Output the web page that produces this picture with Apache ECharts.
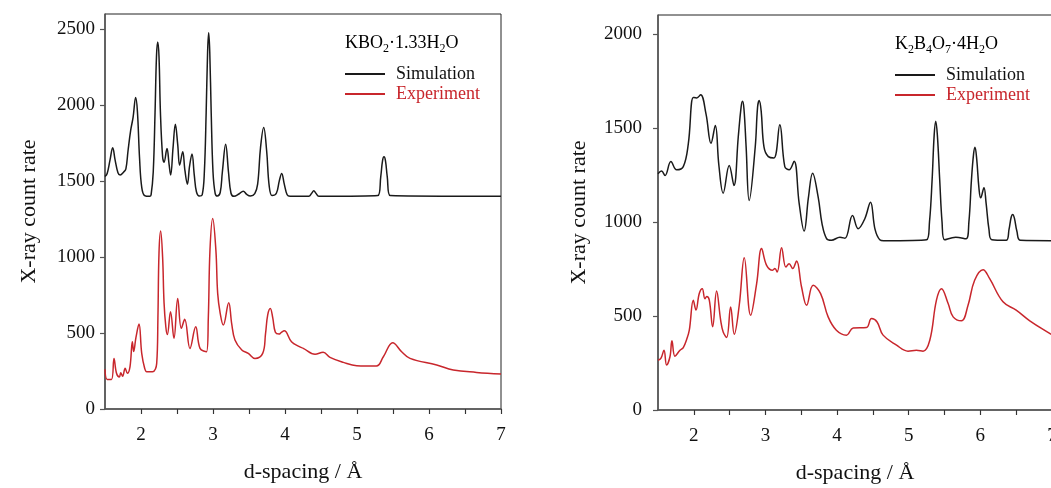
<!DOCTYPE html>
<html>
<head>
<meta charset="utf-8">
<script src="https://cdn.jsdelivr.net/npm/echarts@6/dist/echarts.min.js"></script>
<style>
html,body{margin:0;padding:0;background:#fff;}
#chart{width:1051px;height:488px;}
</style>
</head>
<body>
<div id="chart"></div>
<script>
// ---- data (d-spacing in Å, X-ray count rate) ----
const xLabelValues = [2, 3, 4, 5, 6, 7];
const xTickValues = [2, 2.5, 3, 3.5, 4, 4.5, 5, 5.5, 6, 6.5, 7];
const leftYTicks = [0, 500, 1000, 1500, 2000, 2500];
const rightYTicks = [0, 500, 1000, 1500, 2000];

const kbSim = [[1.50,1530],[1.53,1550],[1.57,1640],[1.607,1720],[1.64,1640],[1.68,1555],[1.71,1540],[1.76,1560],[1.79,1580],[1.82,1700],[1.857,1835],[1.89,1920],[1.926,2050],[1.95,1960],[1.98,1650],[2.01,1460],[2.05,1405],[2.12,1400],[2.14,1410],[2.17,1560],[2.195,1950],[2.215,2320],[2.232,2415],[2.25,2320],[2.27,1950],[2.30,1660],[2.32,1625],[2.361,1715],[2.39,1610],[2.412,1540],[2.445,1720],[2.477,1875],[2.51,1740],[2.537,1605],[2.579,1693],[2.61,1570],[2.644,1480],[2.675,1600],[2.708,1678],[2.74,1540],[2.77,1430],[2.81,1402],[2.85,1410],[2.88,1560],[2.905,1950],[2.925,2350],[2.94,2476],[2.955,2350],[2.975,1950],[3.00,1560],[3.03,1420],[3.06,1402],[3.10,1425],[3.13,1560],[3.176,1743],[3.215,1560],[3.25,1420],[3.29,1400],[3.36,1415],[3.42,1434],[3.47,1412],[3.52,1402],[3.58,1418],[3.62,1480],[3.66,1720],[3.704,1853],[3.745,1700],[3.78,1470],[3.82,1405],[3.88,1420],[3.92,1500],[3.954,1550],[3.99,1480],[4.03,1410],[4.07,1400],[4.33,1400],[4.37,1420],[4.40,1436],[4.43,1420],[4.47,1400],[5.29,1405],[5.33,1530],[5.355,1635],[5.375,1660],[5.395,1635],[5.42,1530],[5.46,1405],[7.0,1400]];

const kbExp = [[1.50,261],[1.53,195],[1.59,195],[1.625,333],[1.66,235],[1.70,210],[1.718,239],[1.745,215],[1.78,268],[1.81,235],[1.847,278],[1.88,443],[1.898,378],[1.93,471],[1.972,559],[2.01,366],[2.05,270],[2.08,245],[2.16,245],[2.218,300],[2.235,600],[2.25,1026],[2.273,1171],[2.30,1000],[2.32,700],[2.345,540],[2.366,490],[2.41,640],[2.458,465],[2.51,728],[2.56,531],[2.607,590],[2.68,399],[2.76,542],[2.82,399],[2.91,377],[2.935,600],[2.958,1046],[2.996,1254],[3.04,1046],[3.065,761],[3.10,630],[3.143,553],[3.218,700],[3.26,560],[3.305,454],[3.40,388],[3.49,366],[3.583,333],[3.69,366],[3.73,498],[3.76,620],[3.796,662],[3.83,600],[3.866,505],[3.917,493],[3.95,505],[3.99,515],[4.09,443],[4.20,410],[4.254,399],[4.417,360],[4.53,373],[4.625,340],[4.81,307],[4.996,285],[5.27,283],[5.366,344],[5.496,436],[5.62,377],[5.736,333],[6.107,290],[6.337,257],[6.66,241],[7.0,230]];

const kbbSim = [[1.50,1256],[1.55,1270],[1.598,1247],[1.68,1321],[1.76,1277],[1.853,1294],[1.923,1415],[1.993,1662],[2.04,1659],[2.095,1676],[2.17,1574],[2.24,1418],[2.30,1512],[2.35,1300],[2.41,1153],[2.494,1300],[2.56,1194],[2.62,1450],[2.66,1610],[2.68,1641],[2.70,1600],[2.73,1400],[2.773,1114],[2.857,1397],[2.89,1610],[2.913,1645],[2.94,1590],[2.98,1397],[3.04,1347],[3.118,1340],[3.20,1517],[3.27,1294],[3.33,1277],[3.40,1323],[3.47,1100],[3.54,951],[3.60,1130],[3.658,1259],[3.736,1132],[3.79,990],[3.853,911],[3.92,902],[4.04,919],[4.11,913],[4.215,1034],[4.294,964],[4.387,1017],[4.466,1105],[4.53,960],[4.596,905],[4.65,900],[5.25,905],[5.29,1000],[5.326,1220],[5.355,1460],[5.377,1535],[5.40,1460],[5.433,1220],[5.465,1000],[5.50,905],[5.656,919],[5.80,910],[5.84,1000],[5.875,1220],[5.905,1360],[5.925,1397],[5.95,1330],[5.98,1180],[6.005,1128],[6.05,1181],[6.08,1100],[6.12,960],[6.16,905],[6.36,902],[6.40,960],[6.43,1025],[6.451,1040],[6.475,1020],[6.51,950],[6.56,902],[7.0,900]];

const kbbExp = [[1.50,265],[1.54,274],[1.584,318],[1.62,239],[1.667,283],[1.695,368],[1.737,286],[1.807,318],[1.853,332],[1.90,375],[1.937,424],[1.993,584],[2.03,531],[2.076,619],[2.118,645],[2.155,592],[2.18,603],[2.216,584],[2.263,442],[2.318,633],[2.375,477],[2.41,415],[2.458,386],[2.514,548],[2.564,403],[2.634,557],[2.704,810],[2.793,504],[2.877,672],[2.946,858],[3.016,769],[3.10,743],[3.132,752],[3.164,734],[3.225,863],[3.285,760],[3.33,778],[3.38,752],[3.434,792],[3.504,654],[3.574,557],[3.666,663],[3.77,619],[3.875,495],[3.99,424],[4.13,398],[4.224,436],[4.41,439],[4.48,486],[4.558,468],[4.642,398],[4.83,345],[4.99,313],[5.107,318],[5.20,313],[5.294,371],[5.387,584],[5.457,645],[5.55,566],[5.62,495],[5.736,474],[5.828,557],[5.92,690],[6.037,746],[6.13,698],[6.316,575],[6.50,531],[6.69,474],[6.967,407],[7.0,400]];

const SERIF = '"Liberation Serif","Times New Roman",serif';
const BLACK = '#1a1a1a';
const RED = '#c8262c';

const chart = echarts.init(document.getElementById('chart'));

function plain(v) { return String(v); }

function xAxes(gridIndex) {
  return [{
    type: 'value', gridIndex: gridIndex, min: 1.5, max: 7, position: 'bottom',
    name: 'd-spacing / Å', nameLocation: 'middle', nameGap: 52,
    nameTextStyle: { fontFamily: SERIF, fontSize: 22, color: '#111' },
    axisLine: { show: true, onZero: false, lineStyle: { color: '#555', width: 1.5 } },
    axisTick: { show: true, inside: false, length: 5, customValues: xTickValues, lineStyle: { color: '#555', width: 1.2 } },
    axisLabel: { show: true, customValues: xLabelValues, formatter: plain, margin: 17, fontFamily: SERIF, fontSize: 19, color: '#111' },
    splitLine: { show: false }
  }, {
    type: 'value', gridIndex: gridIndex, min: 1.5, max: 7, position: 'top',
    axisLine: { show: false },
    axisTick: { show: true, inside: true, length: 5, customValues: xTickValues, lineStyle: { color: '#333', width: 1 } },
    axisLabel: { show: false },
    splitLine: { show: false }
  }];
}

function yAxis(gridIndex, max, ticks, nameGap, labelMargin) {
  return {
    type: 'value', gridIndex: gridIndex, min: 0, max: max,
    name: 'X-ray count rate', nameLocation: 'middle', nameGap: nameGap,
    nameTextStyle: { fontFamily: SERIF, fontSize: 22, color: '#111' },
    axisLine: { show: true, lineStyle: { color: '#555', width: 1.5 } },
    axisTick: { show: true, inside: false, length: 5, customValues: ticks, lineStyle: { color: '#555', width: 1.2 } },
    axisLabel: { show: true, customValues: ticks, formatter: plain, margin: labelMargin, fontFamily: SERIF, fontSize: 19, color: '#111' },
    splitLine: { show: false }
  };
}

function lineSeries(name, data, xi, yi, color) {
  return {
    type: 'line', name: name, data: data, xAxisIndex: xi, yAxisIndex: yi,
    showSymbol: false, symbol: 'none', smooth: 0.4, clip: true,
    lineStyle: { color: color, width: 1.5 }, itemStyle: { color: color },
    silent: true
  };
}

const richSub = {
  m: { fontFamily: SERIF, fontSize: 18, color: '#111', lineHeight: 24, verticalAlign: 'middle' },
  s: { fontFamily: SERIF, fontSize: 12, color: '#111', lineHeight: 12, verticalAlign: 'bottom' }
};

const option = {
  animation: false,
  backgroundColor: '#fff',
  grid: [
    { left: 105, top: 14, width: 396, height: 395, outerBoundsMode: 'none', containLabel: false, show: true, borderColor: '#222', borderWidth: 1, backgroundColor: 'transparent' },
    { left: 658, top: 15, width: 394, height: 395, outerBoundsMode: 'none', containLabel: false, show: true, borderColor: '#222', borderWidth: 1, backgroundColor: 'transparent' }
  ],
  xAxis: [].concat(xAxes(0), xAxes(1)),
  yAxis: [yAxis(0, 2600, leftYTicks, 65, 10), yAxis(1, 2100, rightYTicks, 68, 16)],
  legend: [{
    orient: 'vertical', left: 345, top: 65, padding: 0, itemWidth: 40, itemHeight: 2, itemGap: 2,
    icon: 'rect',
    data: [
      { name: 'Simulation', itemStyle: { color: BLACK }, textStyle: { color: '#111' } },
      { name: 'Experiment', itemStyle: { color: RED }, textStyle: { color: RED } }
    ],
    textStyle: { fontFamily: SERIF, fontSize: 18, padding: [0, 0, 0, 6] },
    selectedMode: false
  }, {
    orient: 'vertical', left: 895, top: 66, padding: 0, itemWidth: 40, itemHeight: 2, itemGap: 2,
    icon: 'rect',
    data: [
      { name: 'Simulation ', itemStyle: { color: BLACK }, textStyle: { color: '#111' } },
      { name: 'Experiment ', itemStyle: { color: RED }, textStyle: { color: RED } }
    ],
    textStyle: { fontFamily: SERIF, fontSize: 18, padding: [0, 0, 0, 6] },
    selectedMode: false
  }],
  graphic: [{
    type: 'text', left: 345, top: 34,
    style: { text: '{m|KBO}{s|2}{m|·1.33H}{s|2}{m|O}', rich: richSub }
  }, {
    type: 'text', left: 895, top: 35,
    style: { text: '{m|K}{s|2}{m|B}{s|4}{m|O}{s|7}{m|·4H}{s|2}{m|O}', rich: richSub }
  }],
  series: [
    lineSeries('Simulation', kbSim, 0, 0, BLACK),
    lineSeries('Experiment', kbExp, 0, 0, RED),
    lineSeries('Simulation ', kbbSim, 2, 1, BLACK),
    lineSeries('Experiment ', kbbExp, 2, 1, RED)
  ]
};
chart.setOption(option);
</script>
</body>
</html>
